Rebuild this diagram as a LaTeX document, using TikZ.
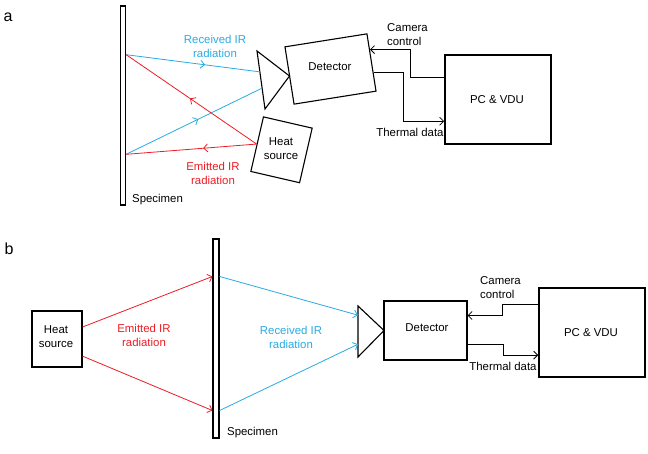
\documentclass[tikz,border=0pt]{standalone}
\usepackage{fontspec}
\setmainfont{Liberation Sans}
\usepackage{tikz}
\usetikzlibrary{arrows.meta,positioning,calc,decorations.markings}
\definecolor{RecvBlue}{HTML}{29ABE2}
\definecolor{EmitRed}{HTML}{ED1C24}

\begin{document}
\begin{tikzpicture}[x=1pt,y=-1pt,>={Straight Barb[length=4pt,width=8pt]},
  txt/.style={font=\fontsize{11.4}{14}\selectfont,align=center,inner sep=0pt},
  box/.style={draw,line width=1.1pt,inner sep=0pt},
  midarrow/.style={postaction={decorate},decoration={markings,mark=at position #1 with {\arrow{>}}}}]
\useasboundingbox (0,0) rectangle (648,454);

% ---- a ----
\node[font=\fontsize{16}{18}\selectfont] (lbla) at (8,17) {a};
\node[box,minimum width=5.5pt,minimum height=199pt] (speca) at (122.8,105.5) {};
\node[txt,anchor=west] (spectxta) at (132,200) {Specimen};
\node[box,rotate=9,minimum width=83pt,minimum height=58pt] (deta) at (330.5,69) {};
\node[txt] (dettxta) at (330,67) {Detector};
\node[box,rotate=-13,minimum width=50pt,minimum height=56pt] (hsa) at (281.5,149.8) {};
\node[txt] (hstxta) at (281,149) {Heat\\source};
\node[box,line width=1.6pt,minimum width=106pt,minimum height=89pt] (pca) at (498,99.5) {};
\node[txt] (pctxta) at (497,100) {PC \& VDU};
\coordinate (lta) at (257,51);
\coordinate (lba) at (265,109);
\coordinate (lxa) at (289.5,76);
\draw[line width=1.1pt] (lta) -- (lxa) -- (lba) -- cycle;
\node[txt,RecvBlue] (recvtxta) at (215,46) {Received IR\\radiation};
\node[txt,EmitRed] (emittxta) at (213,173) {Emitted IR\\radiation};
\node[txt,anchor=west,align=left] (camtxta) at (387,35) {Camera\\control};
\node[txt] (thtxta) at (410,132) {Thermal data};
\draw[RecvBlue,line width=0.8pt,midarrow=0.59] ($(speca.north east)!0.246!(speca.south east)$) -- ($(lta)!0.36!(lba)$);
\draw[RecvBlue,line width=0.8pt,midarrow=0.53] ($(speca.north east)!0.744!(speca.south east)$) -- ($(lta)!0.64!(lba)$);
\draw[EmitRed,line width=0.8pt,midarrow=0.51] (hsa.west) -- ($(speca.north east)!0.246!(speca.south east)$);
\draw[EmitRed,line width=0.8pt,midarrow=0.41] (hsa.west) -- ($(speca.north east)!0.744!(speca.south east)$);
\draw[->,line width=0.8pt] ($(pca.north west)!0.26!(pca.south west)$) -- ++(-34,0) |- ($(deta.north east)!0.28!(deta.south east)$);
\draw[->,line width=0.8pt] ($(deta.north east)!0.67!(deta.south east)$) -- ++(30,0) |- ($(pca.north west)!0.74!(pca.south west)$);

% ---- b ----
\node[font=\fontsize{16}{18}\selectfont] (lblb) at (9,249) {b};
\node[box,minimum width=6pt,minimum height=199pt] (specb) at (216,338.5) {};
\node[txt,anchor=west] (spectxtb) at (227,433) {Specimen};
\node[box,minimum width=50pt,minimum height=56pt] (hsb) at (57,339) {};
\node[txt] (hstxtb) at (56,337) {Heat\\source};
\node[box,minimum width=83pt,minimum height=59pt] (detb) at (425.5,330.5) {};
\node[txt] (dettxtb) at (427,328) {Detector};
\node[box,line width=1.6pt,minimum width=106pt,minimum height=89pt] (pcb) at (592,332.5) {};
\node[txt] (pctxtb) at (591,333) {PC \& VDU};
\coordinate (ltb) at (358,306);
\coordinate (lbb) at (358,357);
\coordinate (lxb) at (384,330.5);
\draw[line width=1.1pt] (ltb) -- (lxb) -- (lbb) -- cycle;
\node[txt,EmitRed] (emittxtb) at (144,335) {Emitted IR\\radiation};
\node[txt,RecvBlue] (recvtxtb) at (291,337) {Received IR\\radiation};
\node[txt,anchor=west,align=left] (camtxtb) at (480,288) {Camera\\control};
\node[txt] (thtxtb) at (503,366) {Thermal data};
\draw[->,EmitRed,line width=0.8pt] ($(hsb.north east)!0.29!(hsb.south east)$) -- ($(specb.north west)!0.19!(specb.south west)$);
\draw[->,EmitRed,line width=0.8pt] ($(hsb.north east)!0.80!(hsb.south east)$) -- ($(specb.north west)!0.86!(specb.south west)$);
\draw[->,RecvBlue,line width=0.8pt] ($(specb.north east)!0.19!(specb.south east)$) -- ($(ltb)!0.18!(lbb)$);
\draw[->,RecvBlue,line width=0.8pt] ($(specb.north east)!0.86!(specb.south east)$) -- ($(ltb)!0.75!(lbb)$);
\draw[->,line width=0.8pt] ($(pcb.north west)!0.19!(pcb.south west)$) -- ++(-36,0) |- ($(detb.north east)!0.25!(detb.south east)$);
\draw[->,line width=0.8pt] ($(detb.north east)!0.73!(detb.south east)$) -- ++(36,0) |- ($(pcb.north west)!0.75!(pcb.south west)$);
\end{tikzpicture}
\end{document}
